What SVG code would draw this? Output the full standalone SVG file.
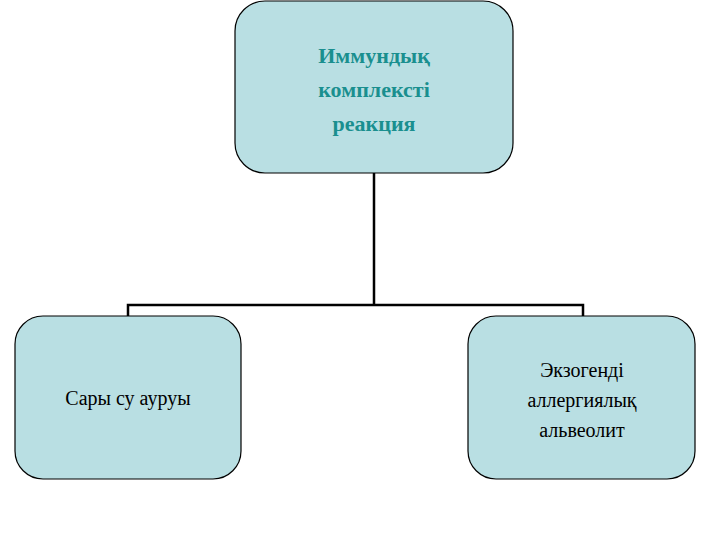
<svg xmlns="http://www.w3.org/2000/svg" width="720" height="540" viewBox="0 0 720 540">
<style>
.box{fill:#b9dfe3;stroke:#000;stroke-width:1.2}
.t{font-family:"Liberation Serif",serif;font-size:20px;text-anchor:middle;fill:#000}
.top{font-size:22px;font-weight:bold;fill:#1a8f8f}
.c{stroke:#000;stroke-width:2.5;fill:none}
</style>
<rect width="720" height="540" fill="#fff"/>
<g id="connectors">
<path class="c" d="M374 173V305M128 316V305H583V316"/>
</g>
<g id="top">
<rect class="box" x="235" y="1" width="278" height="172" rx="30"/>
<text class="t top" x="374" y="63">Иммундық</text>
<text class="t top" x="374" y="97">комплексті</text>
<text class="t top" x="374" y="131">реакция</text>
</g>
<g id="left">
<rect class="box" x="15" y="316" width="226" height="163" rx="28"/>
<text class="t" x="128" y="405">Сары су ауруы</text>
</g>
<g id="right">
<rect class="box" x="468" y="316" width="227" height="163" rx="28"/>
<text class="t" x="582" y="377">Экзогенді</text>
<text class="t" x="582" y="407">аллергиялық</text>
<text class="t" x="582" y="437">альвеолит</text>
</g>
</svg>
